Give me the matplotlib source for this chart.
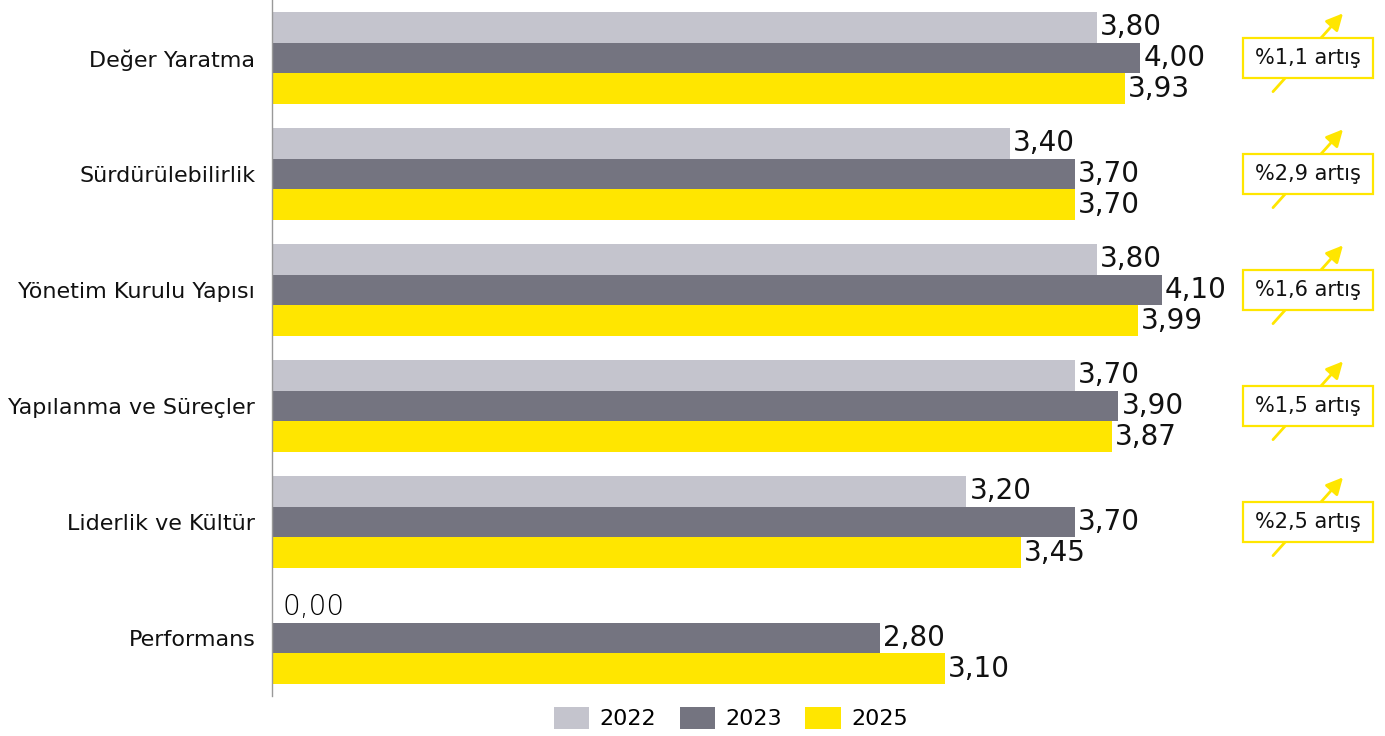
import matplotlib
matplotlib.use("Agg")
import matplotlib.pyplot as plt
from matplotlib.patches import Rectangle, Patch
import numpy as np

categories = ["Değer Yaratma", "Sürdürülebilirlik", "Yönetim Kurulu Yapısı",
              "Yapılanma ve Süreçler", "Liderlik ve Kültür", "Performans"]
v2022 = [3.80, 3.40, 3.80, 3.70, 3.20, 0.00]
v2023 = [4.00, 3.70, 4.10, 3.90, 3.70, 2.80]
v2025 = [3.93, 3.70, 3.99, 3.87, 3.45, 3.10]
years = ["2022", "2023", "2025"]
increases = ["%1,1 artış", "%2,9 artış", "%1,6 artış", "%1,5 artış", "%2,5 artış"]

colors = ["#C4C4CD", "#747480", "#FFE600"]
plt.rcParams['font.family'] = ['DejaVu Sans']

fig = plt.figure(figsize=(13.85, 7.36), dpi=100)
ax = fig.add_axes([272/1385, 40/736, 1 - 272/1385, 696/736])

y = np.arange(len(categories))
h = 0.263
series = [v2022, v2023, v2025]
for i, (vals, c) in enumerate(zip(series, colors)):
    pos = y + (i - 1) * h
    ax.barh(pos, vals, height=h, color=c, label=years[i], zorder=2)
    for p, v in zip(pos, vals):
        txt = f"{v:.2f}".replace(".", ",")
        if v == 0:
            ax.text(v + 0.05, p, txt, va="center", ha="left", fontsize=20,
                    fontweight="light", color="#000000")
        else:
            ax.text(v + 0.015, p, txt, va="center", ha="left", fontsize=20,
                    color="#111111")

ax.set_xlim(0, (1385 - 272) / 217)
ax.set_ylim(len(categories) - 0.5, -0.5)
ax.set_yticks(y)
ax.set_yticklabels(categories, fontsize=16, color="#111111")
ax.tick_params(axis="y", length=0, pad=12)
ax.set_xticks([])
for s in ["top", "right", "bottom"]:
    ax.spines[s].set_visible(False)
ax.spines["left"].set_color("#999999")
ax.spines["left"].set_linewidth(1)

# increase annotations
bx0 = (1243 - 272) / 217
bw = 130 / 217
bh = 0.353
for i, lab in enumerate(increases):
    ax.annotate("", xy=((1343 - 272) / 217, i - 0.385),
                xytext=((1273 - 272) / 217, i + 0.29),
                arrowprops=dict(arrowstyle="-|>,head_length=1.0,head_width=0.5",
                                color="#FFE600", lw=2, shrinkA=0, shrinkB=0),
                annotation_clip=False, zorder=3)
    r = Rectangle((bx0, i - bh / 2), bw, bh, facecolor="white", edgecolor="#FFE600",
                  lw=1.6, clip_on=False, zorder=4)
    ax.add_patch(r)
    ax.text(bx0 + bw / 2, i, lab, ha="center", va="center", fontsize=15,
            color="#111111", zorder=5)

handles = [Patch(facecolor=c, edgecolor="none") for c in colors]
fig.legend(handles, years, loc="center", bbox_to_anchor=(731 / 1385, 1 - 718/736),
           ncol=3, frameon=False, fontsize=16, handlelength=1.58, handleheight=1.13,
           columnspacing=1.04, handletextpad=0.5)

fig.savefig("out.png", dpi=100)
